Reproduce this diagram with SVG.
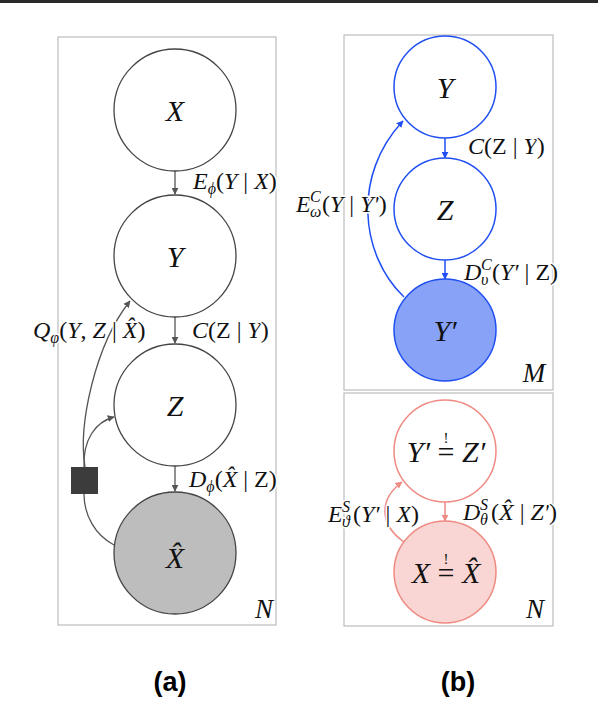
<svg xmlns="http://www.w3.org/2000/svg" width="598" height="702" viewBox="0 0 598 702">
<defs>
<marker id="ag" viewBox="0 0 10 10" refX="9" refY="5" markerWidth="7" markerHeight="7" markerUnits="userSpaceOnUse" orient="auto"><path d="M0,0 L10,5 L0,10 z" fill="#555"/></marker>
<marker id="ab" viewBox="0 0 10 10" refX="9" refY="5" markerWidth="7" markerHeight="7" markerUnits="userSpaceOnUse" orient="auto"><path d="M0,0 L10,5 L0,10 z" fill="#1f4ff2"/></marker>
<marker id="ap" viewBox="0 0 10 10" refX="9" refY="5" markerWidth="7" markerHeight="7" markerUnits="userSpaceOnUse" orient="auto"><path d="M0,0 L10,5 L0,10 z" fill="#ef8a82"/></marker>
<style>
.panel{fill:none;stroke:#bdbdbd;stroke-width:1.2}
.cg{fill:#fff;stroke:#444;stroke-width:1.3}
.cb{fill:#fff;stroke:#1f4ff2;stroke-width:1.5}
.cp{fill:#fff;stroke:#ef8a82;stroke-width:1.5}
.eg{fill:none;stroke:#555;stroke-width:1.3;marker-end:url(#ag)}
.eb{fill:none;stroke:#1f4ff2;stroke-width:1.5;marker-end:url(#ab)}
.ep{fill:none;stroke:#ef8a82;stroke-width:1.5;marker-end:url(#ap)}
.nl{font-family:"Liberation Serif",serif;font-style:italic;font-size:30px;fill:#111;text-anchor:middle}
.el{font-family:"Liberation Serif",serif;font-style:italic;font-size:24px;fill:#111;stroke:#fff;stroke-width:3;paint-order:stroke;stroke-linejoin:round}
.rm{font-style:normal}
.sb{font-size:16px}
.bang{font-size:15px;font-style:normal}
.cap{font-family:"Liberation Sans",Arial,sans-serif;font-weight:bold;font-size:27px;fill:#000;text-anchor:middle}
</style>
</defs>
<rect x="0" y="0" width="598" height="3" fill="#2a2a2a"/>
<g id="panels">
<rect class="panel" x="58" y="37" width="218" height="588"/>
<rect class="panel" x="344" y="35" width="209" height="355"/>
<rect class="panel" x="344" y="393" width="209" height="233"/>
</g>
<g id="connectors">
<path class="eg" d="M175,171 L175,194"/>
<path class="eg" d="M175,317 L175,343"/>
<path class="eg" d="M175,466 L175,491"/>
<path class="eg" d="M85,467 C78,425 95,345 130,301"/>
<path class="eg" d="M84,467 C83,440 95,422 114,417"/>
<path fill="none" stroke="#555" stroke-width="1.3" d="M114,545 C95,535 84,515 84,494"/>
<path class="eb" d="M445,138 L445,158"/>
<path class="eb" d="M445,260 L445,279"/>
<path class="eb" d="M404,297 C360,255 352,175 403,121"/>
<path class="ep" d="M445,502 L445,521"/>
<path class="ep" d="M404,542 C380,525 378,500 402,482"/>
<text class="el" x="193" y="189">E<tspan class="sb" dy="5">ϕ</tspan><tspan class="rm" dy="-5">(</tspan>Y<tspan class="rm"> | </tspan>X<tspan class="rm">)</tspan></text>
<text class="el" x="192" y="338">C<tspan class="rm">(Z | </tspan>Y<tspan class="rm">)</tspan></text>
<text class="el" x="33" y="338">Q<tspan class="sb" dy="5">φ</tspan><tspan class="rm" dy="-5">(</tspan>Y<tspan class="rm">, </tspan>Z<tspan class="rm"> | </tspan>X̂<tspan class="rm">)</tspan></text>
<text class="el" x="189" y="487">D<tspan class="sb" dy="5">ϕ</tspan><tspan class="rm" dy="-5">(</tspan>X̂<tspan class="rm"> | Z)</tspan></text>
<text class="el" x="468" y="154">C<tspan class="rm">(Z | </tspan>Y<tspan class="rm">)</tspan></text>
<text class="el" x="296" y="212">E<tspan class="sb" x="310" dy="-10">C</tspan><tspan class="sb" x="310" dy="15">ω</tspan><tspan class="rm" x="322" dy="-5">(</tspan>Y<tspan class="rm"> | </tspan>Y′<tspan class="rm">)</tspan></text>
<text class="el" x="464" y="280">D<tspan class="sb" x="481" dy="-10">C</tspan><tspan class="sb" x="481" dy="15">υ</tspan><tspan class="rm" x="492" dy="-5">(</tspan>Y′<tspan class="rm"> | Z)</tspan></text>
<text class="el" x="328" y="522">E<tspan class="sb" x="342" dy="-10">S</tspan><tspan class="sb" x="342" dy="15">ϑ</tspan><tspan class="rm" x="353" dy="-5">(</tspan>Y′<tspan class="rm"> | </tspan>X<tspan class="rm">)</tspan></text>
<text class="el" x="463" y="520">D<tspan class="sb" x="480" dy="-10">S</tspan><tspan class="sb" x="480" dy="15">θ</tspan><tspan class="rm" x="491" dy="-5">(</tspan>X̂<tspan class="rm"> | </tspan>Z′<tspan class="rm">)</tspan></text>
</g>
<g id="node-X"><circle class="cg" cx="175" cy="110" r="61"/><text class="nl" x="175" y="121">X</text></g>
<g id="node-Y"><circle class="cg" cx="175" cy="256" r="61"/><text class="nl" x="175" y="267">Y</text></g>
<g id="node-Z"><circle class="cg" cx="175" cy="405" r="61"/><text class="nl" x="175" y="416">Z</text></g>
<g id="node-Xhat"><circle class="cg" cx="175" cy="553" r="61" style="fill:#bdbdbd"/><text class="nl" x="175" y="568">X̂</text></g>
<g id="factor"><rect x="71" y="467" width="27" height="27" fill="#3c3c3c"/></g>
<text class="nl" x="264" y="618" style="font-size:27px">N</text>
<g id="node-bY"><circle class="cb" cx="445" cy="87" r="51"/><text class="nl" x="445" y="98">Y</text></g>
<g id="node-bZ"><circle class="cb" cx="445" cy="209" r="51"/><text class="nl" x="445" y="220">Z</text></g>
<g id="node-bYp"><circle class="cb" cx="445" cy="330" r="51" style="fill:#87a2f6"/><text class="nl" x="445" y="341">Y′</text></g>
<text class="nl" x="534" y="382" style="font-size:27px">M</text>
<g id="node-YpZp"><circle class="cp" cx="445" cy="451" r="51"/><text class="nl" x="446" y="462">Y′ <tspan class="rm">=</tspan><tspan class="bang" dx="-10.9" dy="-19">!</tspan><tspan dx="6" dy="19"> Z′</tspan></text></g>
<g id="node-XXhat"><circle class="cp" cx="445" cy="572" r="51" style="fill:#f9d5d3"/><text class="nl" x="446" y="583">X <tspan class="rm">=</tspan><tspan class="bang" dx="-10.9" dy="-19">!</tspan><tspan dx="6" dy="19"> X̂</tspan></text></g>
<text class="nl" x="535" y="618" style="font-size:27px">N</text>
<text class="cap" x="170" y="691">(a)</text>
<text class="cap" x="458" y="691">(b)</text>
</svg>
